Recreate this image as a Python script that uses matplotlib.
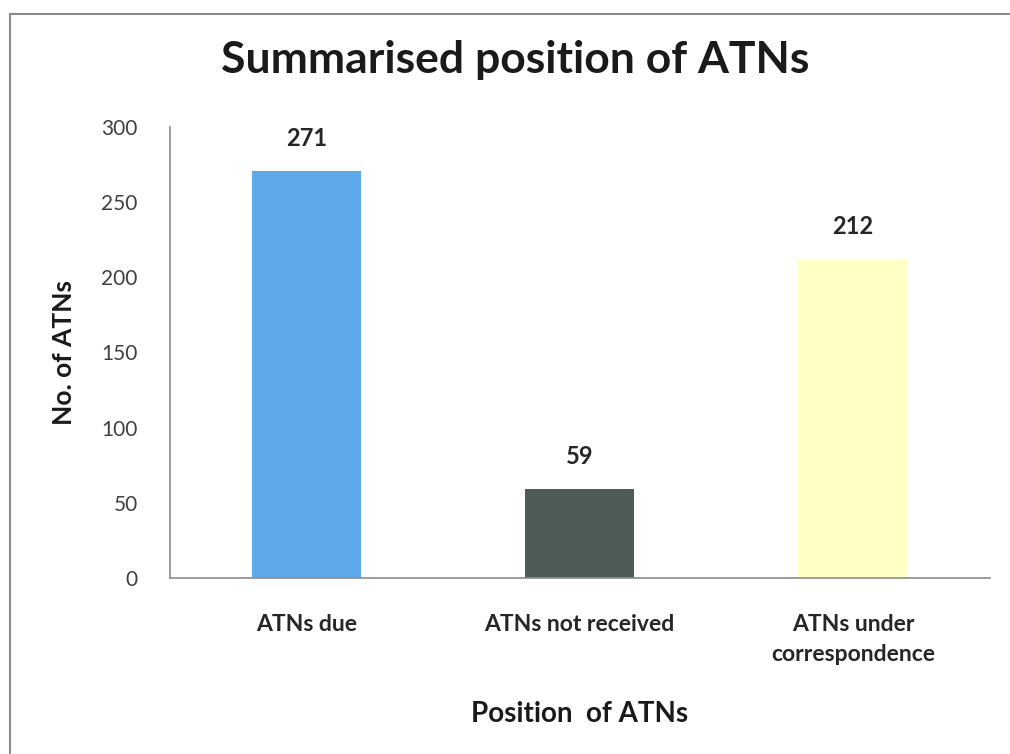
import matplotlib.pyplot as plt
from matplotlib.lines import Line2D

categories = ["ATNs due", "ATNs not received", "ATNs under\ncorrespondence"]
values = [271, 59, 212]
bar_colors = ["#5DA9E9", "#4E5C58", "#FFFFC6"]
yticks = [0, 50, 100, 150, 200, 250, 300]

plt.rcParams["font.family"] = ["Lato", "DejaVu Sans"]

fig = plt.figure(figsize=(10.1, 7.54), dpi=100)
ax = fig.add_axes([0.168, 0.2334, 0.812, 0.5982])

x = range(len(categories))
bars = ax.bar(x, values, width=0.4, color=bar_colors)
ax.set_xlim(-0.5, len(categories) - 0.5)
ax.set_ylim(0, 300)
ax.set_yticks(yticks)
ax.set_xticks(list(x))
ax.set_xticklabels(categories, fontsize=16.5, fontweight="bold", color="#262626",
                   linespacing=1.5)
ax.tick_params(axis="y", length=0, labelsize=15, labelcolor="#404040", pad=23)
ax.tick_params(axis="x", length=0, pad=26)

for s in ["top", "right"]:
    ax.spines[s].set_visible(False)
for s in ["left", "bottom"]:
    ax.spines[s].set_color("#8C8C8C")
    ax.spines[s].set_linewidth(1.2)

for b, v in zip(bars, values):
    ax.annotate(str(v), (b.get_x() + b.get_width() / 2, v), xytext=(0, 15),
                textcoords="offset points", ha="center", va="bottom",
                fontsize=17, fontweight="bold", color="#262626")

ax.set_ylabel("No. of ATNs", fontsize=19, fontweight="bold", color="#1a1a1a", labelpad=18)
ax.set_xlabel("Position  of ATNs", fontsize=20, fontweight="bold", color="#1a1a1a", labelpad=26)
fig.text(0.51, 0.92, "Summarised position of ATNs", ha="center", va="center",
         fontsize=32, fontweight="bold", color="#1a1a1a")

# outer chart frame: only the top and left edges are inside the picture
fx, fy = 10 / 1010, 1 - 14 / 754
fig.lines.append(Line2D([fx, 1.0], [fy, fy], transform=fig.transFigure,
                        color="#8C8C8C", linewidth=1.5))
fig.lines.append(Line2D([fx, fx], [0.0, fy], transform=fig.transFigure,
                        color="#8C8C8C", linewidth=1.5))

fig.savefig("out.png", dpi=100)
